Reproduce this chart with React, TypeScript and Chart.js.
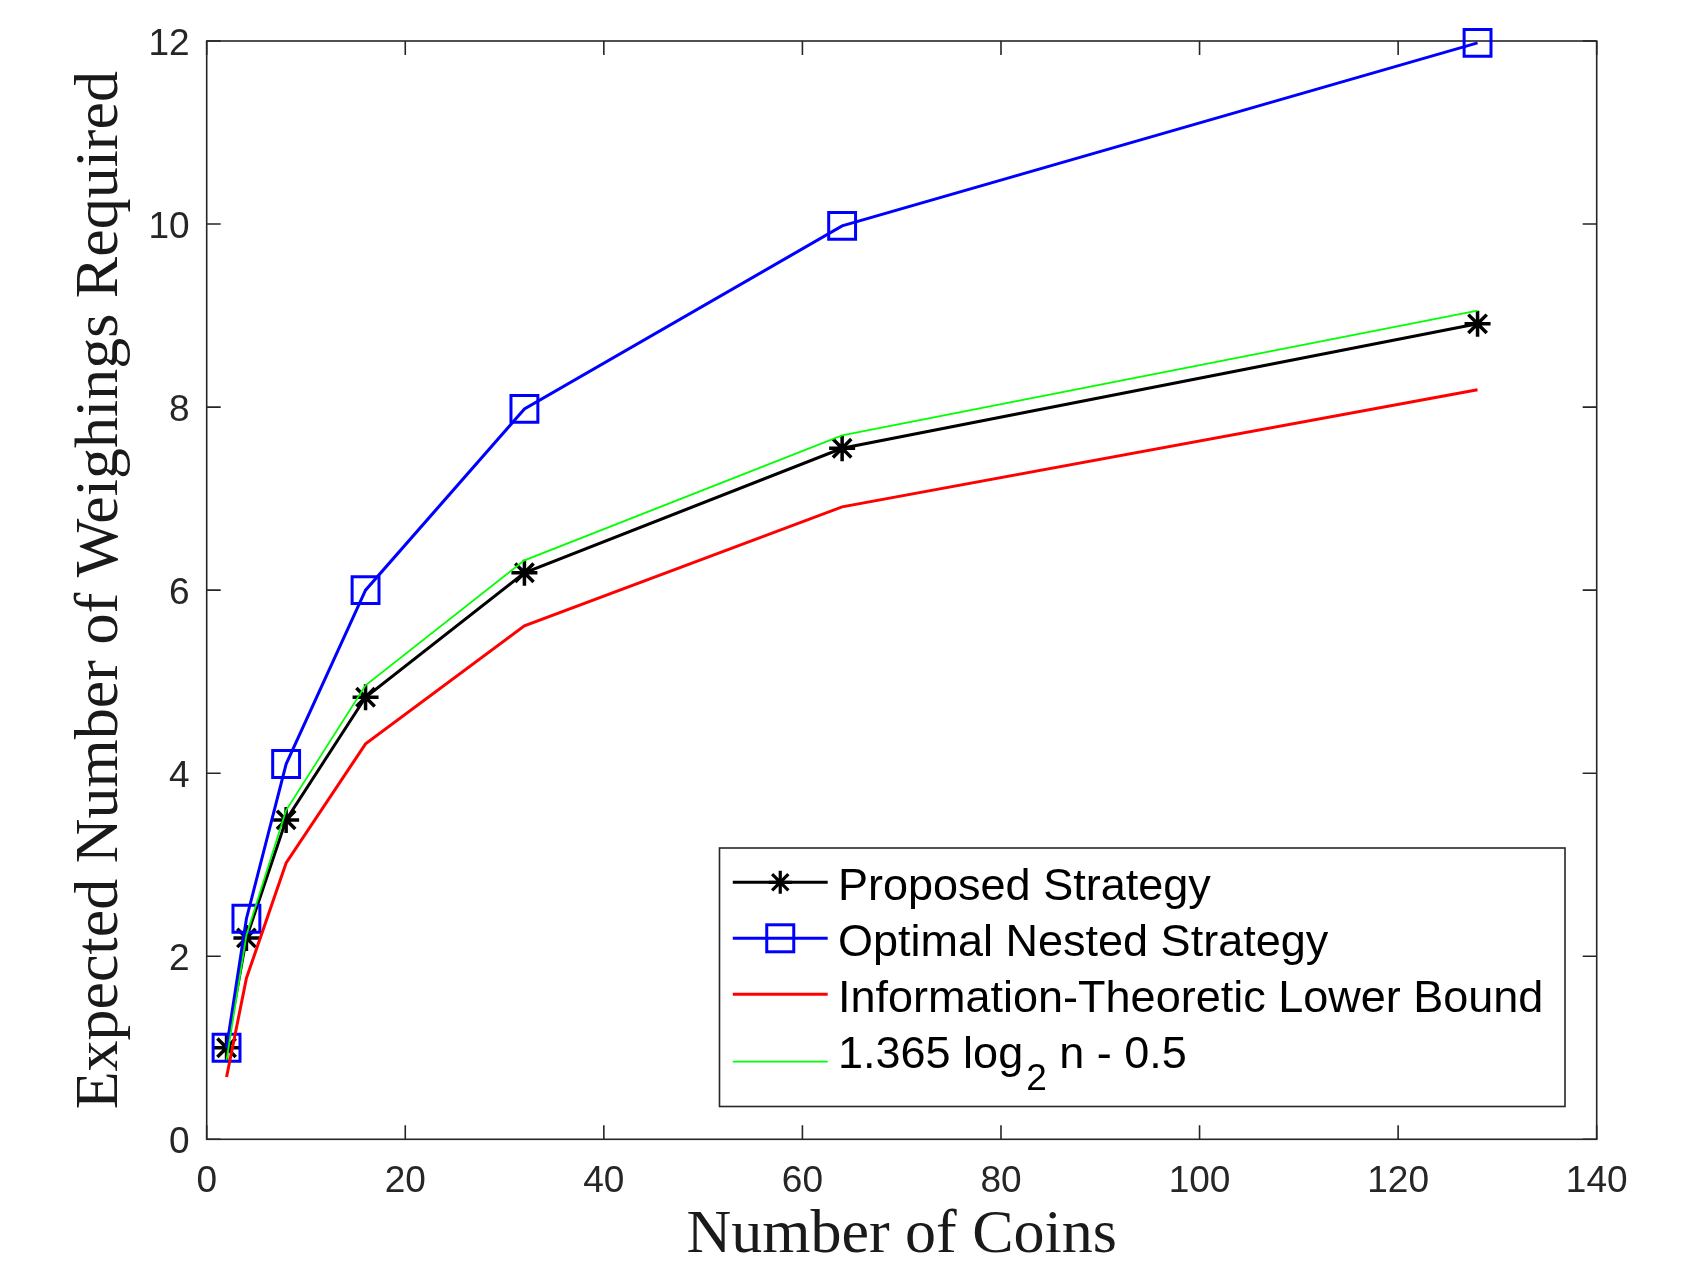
import React, { useEffect, useRef } from 'react';
import { Chart, registerables } from 'chart.js';

Chart.register(...registerables);

// ---- data ----
const coins = [2, 4, 8, 16, 32, 64, 128];
const proposed = [1.0, 2.2, 3.49, 4.83, 6.19, 7.55, 8.91];
const optimalNested = [1.0, 2.41, 4.1, 6.0, 7.98, 9.98, 11.98];
const lowerBound = [0.68, 1.76, 3.02, 4.32, 5.61, 6.91, 8.19];
const fitCurve = [0.865, 2.23, 3.595, 4.96, 6.325, 7.69, 9.055];
const seriesLabels = [
  'Proposed Strategy',
  'Optimal Nested Strategy',
  'Information-Theoretic Lower Bound',
  '1.365 log_2 n - 0.5',
];
const xTicks = [0, 20, 40, 60, 80, 100, 120, 140];
const yTicks = [0, 2, 4, 6, 8, 10, 12];
const xTitle = 'Number of Coins';
const yTitle = 'Expected Number of Weighings Required';

const AXIS = '#262626';
const TICK_LEN = 14;

const W = 1689;
const H = 1262;
const AREA = { left: 206.7, top: 41, right: 1596.7, bottom: 1139.3 };

const framePlugin = {
  id: 'matlabFrame',
  beforeDatasetsDraw(chart: any) {
    const { ctx, chartArea: a, scales } = chart;
    const x = scales.x;
    const y = scales.y;
    ctx.save();
    ctx.strokeStyle = AXIS;
    ctx.lineWidth = 1.6;
    ctx.strokeRect(a.left, a.top, a.right - a.left, a.bottom - a.top);
    ctx.beginPath();
    for (const v of xTicks) {
      const px = x.getPixelForValue(v);
      ctx.moveTo(px, a.bottom);
      ctx.lineTo(px, a.bottom - TICK_LEN);
      ctx.moveTo(px, a.top);
      ctx.lineTo(px, a.top + TICK_LEN);
    }
    for (const v of yTicks) {
      const py = y.getPixelForValue(v);
      ctx.moveTo(a.left, py);
      ctx.lineTo(a.left + TICK_LEN, py);
      ctx.moveTo(a.right, py);
      ctx.lineTo(a.right - TICK_LEN, py);
    }
    ctx.stroke();
    ctx.restore();
  },
};

const legendPlugin = {
  id: 'matlabLegend',
  afterDraw(chart: any) {
    const { ctx } = chart;
    const box = { left: 719.5, top: 848, right: 1565, bottom: 1106.5 };
    const rows = [
      { lineY: 882.3, base: 900 },
      { lineY: 938.3, base: 956 },
      { lineY: 994.3, base: 1011.7 },
      { lineY: 1061.7, base: 1068 },
    ];
    const sx0 = 732.8;
    const sx1 = 827.7;
    const mx = (sx0 + sx1) / 2;
    const tx = 838;
    ctx.save();
    ctx.fillStyle = '#ffffff';
    ctx.fillRect(box.left, box.top, box.right - box.left, box.bottom - box.top);
    ctx.strokeStyle = AXIS;
    ctx.lineWidth = 1.6;
    ctx.strokeRect(box.left, box.top, box.right - box.left, box.bottom - box.top);

    chart.data.datasets.forEach((ds: any, i: number) => {
      const r = rows[i];
      ctx.strokeStyle = ds.borderColor;
      ctx.lineWidth = ds.borderWidth;
      ctx.beginPath();
      ctx.moveTo(sx0, r.lineY);
      ctx.lineTo(sx1, r.lineY);
      ctx.stroke();
      if (ds.pointStyle === 'star') {
        const rad = 11.5;
        ctx.lineWidth = 3.2;
        ctx.beginPath();
        ctx.moveTo(mx - rad, r.lineY);
        ctx.lineTo(mx + rad, r.lineY);
        ctx.moveTo(mx, r.lineY - rad);
        ctx.lineTo(mx, r.lineY + rad);
        const d = rad * Math.SQRT1_2;
        ctx.moveTo(mx - d, r.lineY - d);
        ctx.lineTo(mx + d, r.lineY + d);
        ctx.moveTo(mx - d, r.lineY + d);
        ctx.lineTo(mx + d, r.lineY - d);
        ctx.stroke();
      } else if (ds.pointStyle === 'rect') {
        const s = 13.5;
        ctx.lineWidth = 3;
        ctx.strokeRect(mx - s, r.lineY - s, 2 * s, 2 * s);
      }
      // label text with optional subscript
      ctx.fillStyle = '#000000';
      ctx.textBaseline = 'alphabetic';
      ctx.textAlign = 'left';
      const label: string = ds.label;
      const m = label.match(/^(.*)_(\S)(.*)$/);
      ctx.font = '45px "Liberation Sans", Arial, sans-serif';
      if (m) {
        let x = tx;
        ctx.fillText(m[1], x, r.base);
        x += ctx.measureText(m[1]).width;
        ctx.font = '37px "Liberation Sans", Arial, sans-serif';
        ctx.fillText(m[2], x + 3, r.base + 22);
        x += ctx.measureText(m[2]).width + 3;
        ctx.font = '45px "Liberation Sans", Arial, sans-serif';
        ctx.fillText(m[3], x, r.base);
      } else {
        ctx.fillText(label, tx, r.base);
      }
    });
    ctx.restore();
  },
};

function pts(values: number[]) {
  return coins.map((c, i) => ({ x: c, y: values[i] }));
}

export default function App() {
  const ref = useRef<HTMLCanvasElement | null>(null);

  useEffect(() => {
    document.body.style.margin = '0';
    const canvas = ref.current;
    if (!canvas) return;
    const tickFont = { family: '"Liberation Sans", Arial, sans-serif', size: 37 };
    // y labels: a blank first line with a small line height nudges the text down a few px
    const yTickFont = { family: '"Liberation Sans", Arial, sans-serif', size: 37, lineHeight: '7px' };
    const titleFont = { family: '"Liberation Serif", "Times New Roman", serif', size: 62 };
    const chart = new Chart(canvas, {
      type: 'line',
      data: {
        datasets: [
          {
            label: seriesLabels[0],
            data: pts(proposed),
            borderColor: '#000000',
            backgroundColor: '#000000',
            borderWidth: 3,
            pointStyle: 'star',
            pointRadius: 13,
            pointBorderWidth: 3.5,
            pointBorderColor: '#000000',
            tension: 0,
            clip: false,
            order: 4,
          },
          {
            label: seriesLabels[1],
            data: pts(optimalNested),
            borderColor: '#0000ff',
            backgroundColor: 'rgba(0,0,0,0)',
            borderWidth: 3,
            pointStyle: 'rect',
            pointRadius: 19,
            pointBorderWidth: 3,
            pointBorderColor: '#0000ff',
            pointBackgroundColor: 'rgba(0,0,0,0)',
            tension: 0,
            clip: false,
            order: 3,
          },
          {
            label: seriesLabels[2],
            data: pts(lowerBound),
            borderColor: '#ff0000',
            backgroundColor: '#ff0000',
            borderWidth: 3,
            pointRadius: 0,
            tension: 0,
            clip: false,
            order: 2,
          },
          {
            label: seriesLabels[3],
            data: pts(fitCurve),
            borderColor: '#00ff00',
            backgroundColor: '#00ff00',
            borderWidth: 1.8,
            pointRadius: 0,
            tension: 0,
            clip: false,
            order: 1,
          },
        ],
      } as any,
      options: {
        animation: false,
        responsive: false,
        devicePixelRatio: 1,
        layout: {
          padding: { left: 0, top: AREA.top, right: W - AREA.right, bottom: 0 },
        },
        plugins: {
          legend: { display: false },
          tooltip: { enabled: false },
        },
        scales: {
          x: {
            type: 'linear',
            min: 0,
            max: 140,
            position: 'bottom',
            grid: { display: false, drawTicks: false },
            border: { display: false },
            ticks: {
              stepSize: 20,
              color: AXIS,
              font: tickFont,
              padding: 20,
              maxRotation: 0,
              autoSkip: false,
            },
            title: {
              display: true,
              text: xTitle,
              color: '#1a1a1a',
              font: titleFont,
              padding: { top: 0, bottom: -11 },
            },
            afterFit: (s: any) => {
              s.height = H - AREA.bottom;
            },
          },
          y: {
            type: 'linear',
            min: 0,
            max: 12,
            position: 'left',
            grid: { display: false, drawTicks: false },
            border: { display: false },
            ticks: {
              stepSize: 2,
              color: AXIS,
              font: yTickFont,
              padding: 17,
              autoSkip: false,
              callback: (v: any) => ['', String(v)],
            },
            title: {
              display: true,
              text: yTitle,
              color: '#1a1a1a',
              font: titleFont,
              padding: { top: 64, bottom: 0 },
            },
            afterFit: (s: any) => {
              s.width = AREA.left;
            },
          },
        },
      } as any,
      plugins: [framePlugin, legendPlugin],
    });
    return () => chart.destroy();
  }, []);

  return (
    <canvas
      ref={ref}
      width={W}
      height={H}
      style={{ display: 'block', width: W, height: H }}
    />
  );
}
